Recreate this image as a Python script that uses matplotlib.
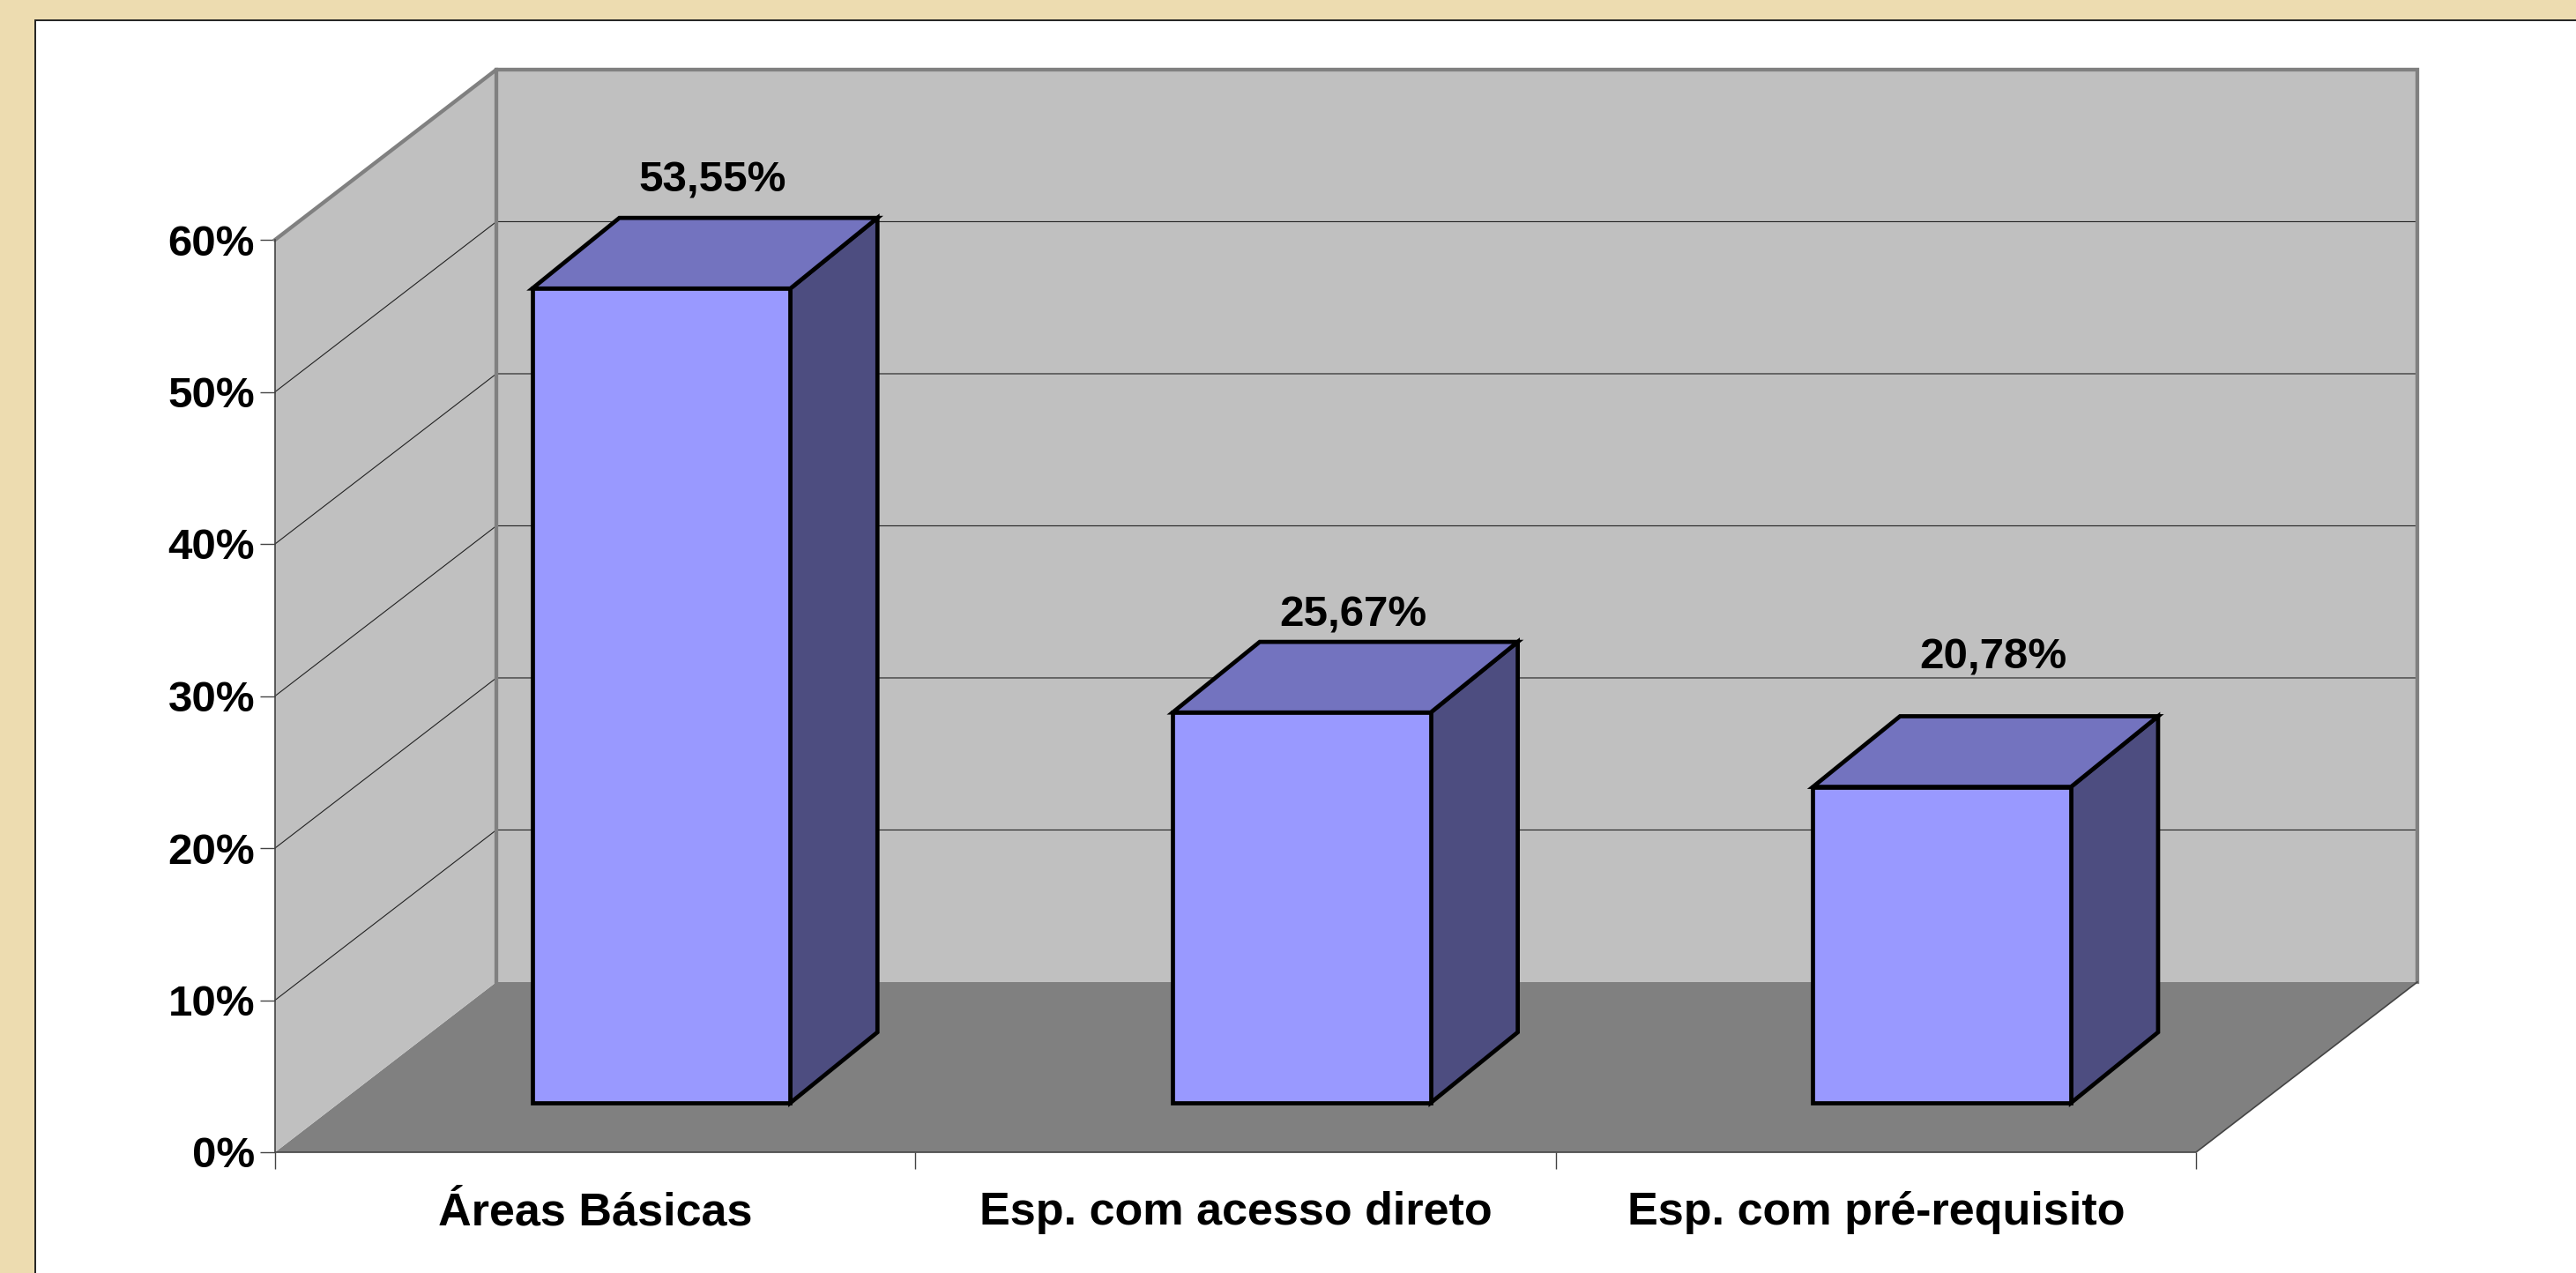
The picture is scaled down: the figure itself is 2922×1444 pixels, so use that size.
import matplotlib
matplotlib.use('Agg')
import matplotlib.pyplot as plt
from matplotlib.patches import Polygon, Rectangle

categories = ['Áreas Básicas', 'Esp. com acesso direto', 'Esp. com pré-requisito']
values = [53.55, 25.67, 20.78]
value_labels = ['53,55%', '25,67%', '20,78%']
y_ticks = [0, 10, 20, 30, 40, 50, 60]

W, H = 2922, 1444

# fake 3d: how far back the walls go, in data units
DEPTH_X = 0.3456
DEPTH_Y = 11.19
BAR_WIDTH = 0.403
BAR_CENTER = 0.503
BAR_FRONT = 0.29
BAR_BACK = 0.705
BAR_SIDE_X = 0.136  # sideways shift of the bar's back face, a bit less than the walls
LABEL_DEPTH = 0.53
LABEL_LIFT = [2.47, 1.72, 3.87]  # labels do not sit at a fixed gap above the bars


def project(x, y, d):
    return (x + d * DEPTH_X, y + d * DEPTH_Y)


def bar_back(x, y):
    fx = project(x, y, BAR_FRONT)[0]
    return (fx + BAR_SIDE_X, project(x, y, BAR_BACK)[1])


def draw_poly(ax, points, color, edge='none', lw=0, z=1):
    ax.add_patch(Polygon(points, closed=True, facecolor=color, edgecolor=edge,
                         linewidth=lw, zorder=z, clip_on=False))


plt.rcParams['font.family'] = ['Liberation Sans', 'DejaVu Sans']
plt.rcParams['font.weight'] = 'bold'

fig = plt.figure(figsize=(W / 100, H / 100), dpi=100, facecolor='#EDDCB0')
# white panel runs off the right and bottom edges
fig.add_artist(Rectangle((40 / W, -0.01), 1.01, 1.01 - 23 / H, transform=fig.transFigure,
                         facecolor='white', edgecolor='#222222', linewidth=1.4, zorder=-1))

ax = fig.add_axes([312 / W, 1 - 1307 / H, (2491 - 312) / W, (1307 - 272) / H])
ax.set_xlim(0, 3)
ax.set_ylim(0, 60)
ax.patch.set_visible(False)
for s in ax.spines.values():
    s.set_visible(False)

n = len(categories)
top = y_ticks[-1]

# floor and walls
draw_poly(ax, [project(0, 0, 0), project(n, 0, 0), project(n, 0, 1), project(0, 0, 1)], '#808080')
draw_poly(ax, [project(0, 0, 0), project(0, 0, 1), project(0, top, 1), project(0, top, 0)], '#C0C0C0')
draw_poly(ax, [project(0, 0, 1), project(n, 0, 1), project(n, top, 1), project(0, top, 1)], '#C0C0C0')

# gridlines run along the side wall and across the back
for v in y_ticks[1:-1]:
    xs, ys = zip(project(0, v, 0), project(0, v, 1), project(n, v, 1))
    ax.plot(xs, ys, color='#222222', lw=0.8, zorder=2, clip_on=False)

# wall borders
xs, ys = zip(project(0, top, 0), project(0, top, 1), project(n, top, 1), project(n, 0, 1))
ax.plot(xs, ys, color='#808080', lw=3.1, zorder=2, clip_on=False, solid_joinstyle='miter')
xs, ys = zip(project(0, 0, 1), project(0, top, 1))
ax.plot(xs, ys, color='#808080', lw=3.1, zorder=2, clip_on=False)
xs, ys = zip(project(0, top, 0), project(0, 0, 0), project(n, 0, 0), project(n, 0, 1))
ax.plot(xs, ys, color='#444444', lw=1.2, zorder=2, clip_on=False)

# bars
for i, v in enumerate(values):
    x0 = i + BAR_CENTER - BAR_WIDTH / 2
    x1 = x0 + BAR_WIDTH
    draw_poly(ax, [project(x1, 0, BAR_FRONT), bar_back(x1, 0),
                   bar_back(x1, v), project(x1, v, BAR_FRONT)],
              '#4D4D80', 'black', 3.4, 3)
    draw_poly(ax, [project(x0, v, BAR_FRONT), project(x1, v, BAR_FRONT),
                   bar_back(x1, v), bar_back(x0, v)],
              '#7373BF', 'black', 3.4, 3)
    draw_poly(ax, [project(x0, 0, BAR_FRONT), project(x1, 0, BAR_FRONT),
                   project(x1, v, BAR_FRONT), project(x0, v, BAR_FRONT)],
              '#9999FF', 'black', 3.4, 4)
    lx = project(i + 0.5, v, LABEL_DEPTH)[0]
    ly = project(i + 0.5, v, BAR_BACK)[1] + LABEL_LIFT[i]
    ax.text(lx, ly, value_labels[i], ha='center', va='center', fontsize=35.5,
            fontweight='bold', color='black', zorder=5, clip_on=False)

# axes ticks and labels
ax.set_yticks(y_ticks)
ax.set_yticklabels([f'{v}%' for v in y_ticks])
ax.tick_params(axis='y', length=12.5, width=1, color='#444444', pad=4, labelsize=35.5)
ax.set_xticks(range(n + 1))
ax.set_xticklabels([])
ax.set_xticks([i + 0.5 for i in range(n)], categories, minor=True)
ax.tick_params(axis='x', which='major', length=14, width=1, color='#444444')
ax.tick_params(axis='x', which='minor', length=0, pad=32, labelsize=37.5)
for lab in ax.get_xticklabels(minor=True) + ax.get_yticklabels():
    lab.set_fontweight('bold')

fig.savefig('out.png', dpi=100, facecolor=fig.get_facecolor())
plt.close(fig)
